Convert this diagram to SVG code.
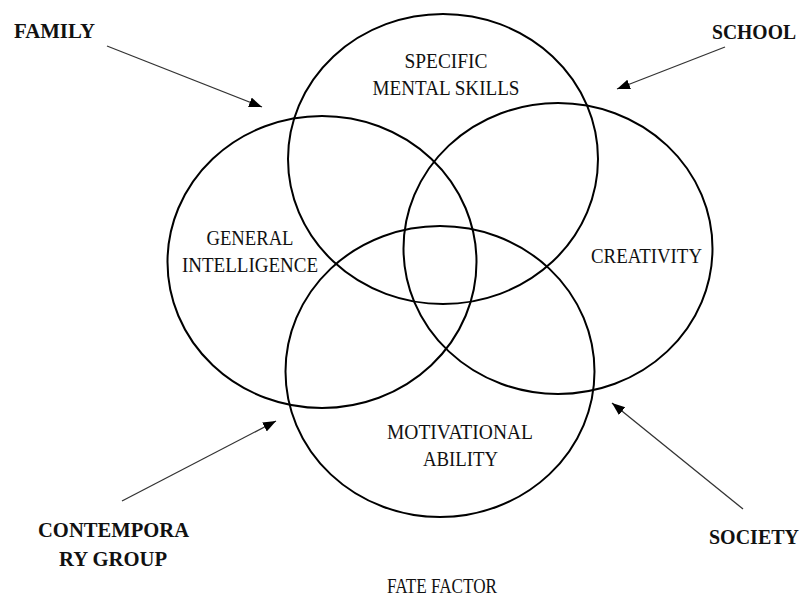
<svg xmlns="http://www.w3.org/2000/svg" width="807" height="597" viewBox="0 0 807 597">
<style>
.c{fill:none;stroke:#000;stroke-width:2}
.t{font-family:"Liberation Serif","DejaVu Serif",serif;font-size:22px;fill:#111;text-anchor:middle}
.b{font-family:"Liberation Serif","DejaVu Serif",serif;font-size:22px;font-weight:bold;fill:#111;text-anchor:middle}
.a{stroke:#333;stroke-width:1.3;fill:none;marker-end:url(#ah)}
</style>
<defs>
<marker id="ah" markerUnits="userSpaceOnUse" markerWidth="14" markerHeight="12" refX="13" refY="5" orient="auto">
<path d="M0,0 L13,5 L0,10 z" fill="#000"/>
</marker>
</defs>
<rect width="807" height="597" fill="#fff"/>
<g id="specific">
<ellipse class="c" cx="443" cy="159" rx="155" ry="145"/>
<text class="t" x="446" y="68" textLength="83" lengthAdjust="spacingAndGlyphs">SPECIFIC</text>
<text class="t" x="446" y="95" textLength="147" lengthAdjust="spacingAndGlyphs">MENTAL SKILLS</text>
</g>
<g id="general">
<ellipse class="c" cx="322" cy="262" rx="154.5" ry="146"/>
<text class="t" x="250" y="245" textLength="87" lengthAdjust="spacingAndGlyphs">GENERAL</text>
<text class="t" x="250" y="272" textLength="136" lengthAdjust="spacingAndGlyphs">INTELLIGENCE</text>
</g>
<g id="creativity">
<ellipse class="c" cx="558" cy="248.5" rx="154.5" ry="145.5"/>
<text class="t" x="646.5" y="263" textLength="111" lengthAdjust="spacingAndGlyphs">CREATIVITY</text>
</g>
<g id="motivational">
<ellipse class="c" cx="440" cy="371.5" rx="154.5" ry="145.5"/>
<text class="t" x="460" y="439" textLength="146" lengthAdjust="spacingAndGlyphs">MOTIVATIONAL</text>
<text class="t" x="460.5" y="466" textLength="75" lengthAdjust="spacingAndGlyphs">ABILITY</text>
</g>
<g id="family"><text class="b" x="54.5" y="38" textLength="81" lengthAdjust="spacingAndGlyphs">FAMILY</text></g>
<g id="school"><text class="b" x="754" y="39" font-size="20" textLength="84" lengthAdjust="spacingAndGlyphs">SCHOOL</text></g>
<g id="contemporary">
<text class="b" x="113.5" y="537" textLength="151" lengthAdjust="spacingAndGlyphs">CONTEMPORA</text>
<text class="b" x="113" y="566" textLength="108" lengthAdjust="spacingAndGlyphs">RY GROUP</text>
</g>
<g id="society"><text class="b" x="754" y="544" textLength="90" lengthAdjust="spacingAndGlyphs">SOCIETY</text></g>
<g id="fate"><text class="t" x="442" y="593" textLength="110" lengthAdjust="spacingAndGlyphs">FATE FACTOR</text></g>
<g id="connectors">
<line class="a" x1="107" y1="46" x2="262" y2="107"/>
<line class="a" x1="725" y1="47" x2="617" y2="89"/>
<line class="a" x1="122" y1="501" x2="276" y2="421"/>
<line class="a" x1="743" y1="509" x2="612" y2="403"/>
</g>
</svg>
